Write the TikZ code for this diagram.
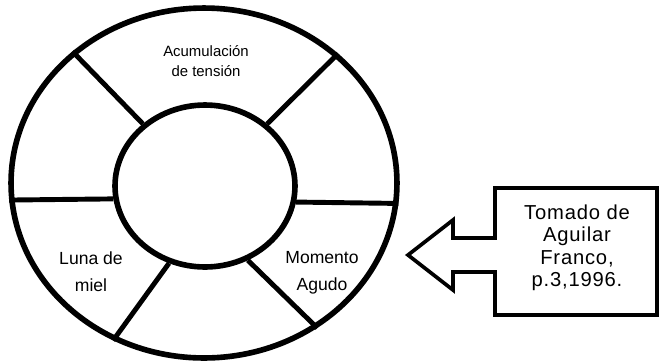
\documentclass[tikz,border=0pt]{standalone}
\usepackage{fontspec}
\setmainfont{Liberation Sans}
\usetikzlibrary{shapes.geometric}

\begin{document}
\begin{tikzpicture}[x=0.02cm, y=-0.02cm,
        ring/.style={draw, ellipse, line width=3.2pt, inner sep=0pt},
        spoke/.style={line width=2.8pt},
        fase/.style={align=center, font=\fontsize{10}{15.3}\selectfont}]
        \useasboundingbox (0,0) rectangle (660,363);
        % ciclo
        \node[ring, minimum width=7.72cm, minimum height=7cm] (exterior) at (204,183) {};
        \node[ring, minimum width=3.6cm, minimum height=3.24cm] (interior) at (205,186) {};
        \draw[spoke] (interior.135) -- (exterior.135);
        \draw[spoke] (interior.45) -- (exterior.44);
        \draw[spoke] (interior.188) -- (exterior.185);
        \draw[spoke] (interior.-10) -- (exterior.-6);
        \draw[spoke] (interior.245) -- (exterior.240);
        \draw[spoke] (interior.-60) -- (exterior.-52);
        \node[fase, font=\fontsize{8.5}{11.3}\selectfont] (acumulacion) at (206,61) {Acumulación\\de tensión};
        \node[fase] (luna) at (91,272) {Luna de\\miel};
        \node[fase] (agudo) at (322,273) {Momento\\Agudo};
        % fuente
        \draw[line width=2.1pt, line join=miter]
            (495,188) -- (657,188) -- (657,315) -- (495,315) -- (495,272) -- (453,272)
            -- (453,290) -- (408,255) -- (453,220) -- (453,238) -- (495,238) -- cycle;
        \node[align=center, font=\fontsize{11.5}{12.8}\selectfont\addfontfeatures{LetterSpace=4}] (fuente) at (577,248)
            {Tomado de\\Aguilar\\Franco,\\p.3,1996.};
\end{tikzpicture}
\end{document}
